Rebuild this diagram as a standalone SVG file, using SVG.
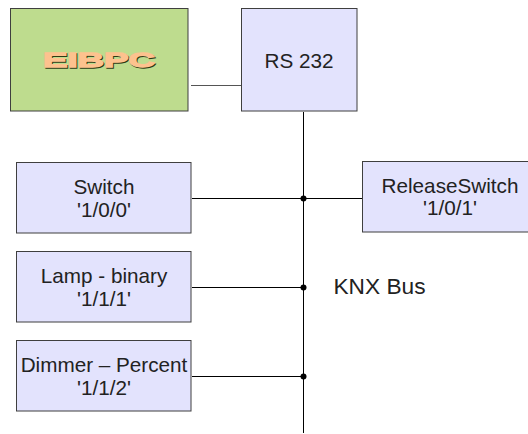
<svg xmlns="http://www.w3.org/2000/svg" width="528" height="434" viewBox="0 0 528 434">
<style>
.box{fill:#e3e3fd;stroke:#3f3f3f;stroke-width:1}
.green{fill:#bedc8e}
.t{font-family:"Liberation Sans",Arial,sans-serif;font-size:20.700px;fill:#222;text-anchor:middle}
.w{font-family:"Liberation Sans",Arial,sans-serif;font-weight:bold;font-size:21px;stroke-width:1.300px}
.c{fill:none;stroke:#000;stroke-width:1}
.dot{fill:#000}
</style>
<rect width="528" height="434" fill="#fff"/>
<g id="connectors">
<path class="c" style="stroke:#555;stroke-width:1.200" d="M191 85.500H241"/>
<path class="c" d="M303.500 112V433"/>
<path class="c" d="M192 198.500H362"/>
<path class="c" d="M192 287.500H303"/>
<path class="c" d="M192 376.500H303"/>
<circle class="dot" cx="303.500" cy="198.500" r="3"/>
<circle class="dot" cx="303.500" cy="287.500" r="3"/>
<circle class="dot" cx="303.500" cy="376.500" r="3"/>
</g>
<g id="eibpc">
<rect class="box green" x="10.500" y="8.500" width="177.500" height="102.500"/>
<text class="w" x="44" y="68" textLength="112" lengthAdjust="spacingAndGlyphs" fill="#2c3a14" stroke="#2c3a14">EIBPC</text>
<text class="w" x="43" y="67" textLength="112" lengthAdjust="spacingAndGlyphs" fill="#fdc28e" stroke="#fdc28e">EIBPC</text>
</g>
<g id="rs232">
<rect class="box" x="241.500" y="8.500" width="115.500" height="102.500"/>
<text class="t" x="299" y="68">RS 232</text>
</g>
<g id="switch">
<rect class="box" x="16.500" y="162.500" width="174.500" height="70.500"/>
<text class="t" x="104" y="194">Switch</text>
<text class="t" x="104" y="216.500">'1/0/0'</text>
</g>
<g id="releaseswitch">
<rect class="box" x="362.500" y="161.500" width="166" height="70.500"/>
<text class="t" x="450" y="193">ReleaseSwitch</text>
<text class="t" x="450" y="215">'1/0/1'</text>
</g>
<g id="lamp">
<rect class="box" x="16.500" y="251.500" width="174.500" height="70.500"/>
<text class="t" x="104" y="283">Lamp - binary</text>
<text class="t" x="104" y="305.500">'1/1/1'</text>
</g>
<g id="dimmer">
<rect class="box" x="16.500" y="340.500" width="174.500" height="70.500"/>
<text class="t" x="104" y="372">Dimmer – Percent</text>
<text class="t" x="104" y="394.500">'1/1/2'</text>
</g>
<g id="knxbus">
<text class="t" style="font-size:22.700px" x="379.500" y="294">KNX Bus</text>
</g>
</svg>
